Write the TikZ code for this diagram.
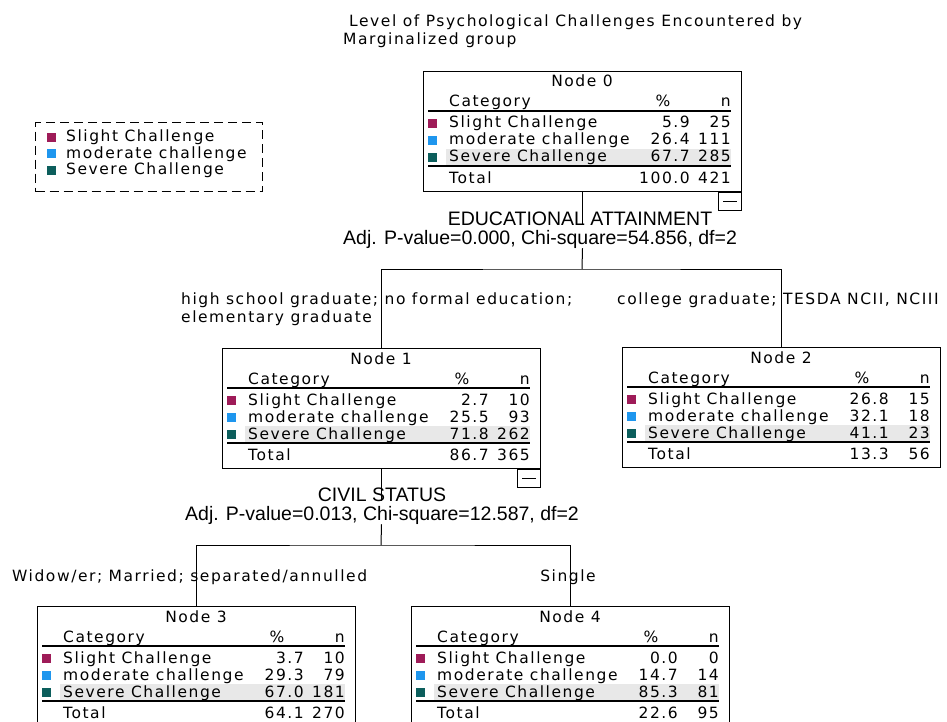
\documentclass[tikz,border=0pt]{standalone}
\usepackage{fontspec}
\setmainfont{DejaVu Sans}[LetterSpace=10]
\newfontfamily\splitfont{Liberation Sans}

\definecolor{slightcol}{RGB}{158,27,88}
\definecolor{moderatecol}{RGB}{30,150,238}
\definecolor{severecol}{RGB}{12,94,92}
\definecolor{rowshade}{RGB}{232,232,232}

\tikzset{
  txt/.style={inner sep=0pt, font=\fontsize{15.5}{18}\selectfont},
  splittxt/.style={inner sep=0pt, font=\splitfont\fontsize{19.5}{22}\selectfont},
  catbox/.style={draw, line width=1pt, minimum width=318pt, minimum height=120pt,
    inner sep=0pt, anchor=north west},
  minusbox/.style={draw, line width=1pt, minimum width=23pt, minimum height=18pt,
    inner sep=0pt, anchor=north east},
  swatch/.style={minimum size=9pt, inner sep=0pt, anchor=south west},
  edge/.style={line width=1pt},
}

% #1 name, #2 top left corner, #3 title, #4 pct/n rows
\newcommand{\cattable}[4]{%
  \begin{scope}[shift={(#2)}]
    \node[catbox] (#1) at (0,0) {};
    \fill[rowshade] (23,78) rectangle (308,94);
    \node[txt, anchor=base] at (159,16) {#3};
    \node[txt, anchor=base west] at (26,36) {Category};
    \node[txt, anchor=base] at (240,36) {\%};
    \node[txt, anchor=base east] at (308,36) {n};
    \draw[line width=1.2pt] (5,40) -- (308,40);
    \draw[line width=1.5pt] (5,95) -- (308,95);
    \foreach \lab/\col/\rowy in {Slight Challenge/slightcol/57,
        moderate challenge/moderatecol/74, Severe Challenge/severecol/91} {
      \node[swatch, fill=\col] at (5,\rowy) {};
      \node[txt, anchor=base west] at (26,\rowy) {\lab};
    }
    \node[txt, anchor=base west] at (26,112) {Total};
    \foreach \pct/\cnt [count=\i] in {#4} {
      \pgfmathsetmacro\rowy{{57,74,91,112}[\i-1]}
      \node[txt, anchor=base east] at (267,\rowy) {\pct};
      \node[txt, anchor=base east] at (308,\rowy) {\cnt};
    }
  \end{scope}}

\begin{document}
\begin{tikzpicture}[x=1pt, y=-1pt]
  \useasboundingbox (0,0) rectangle (947,722);
  \clip (0,0) rectangle (947,722);

  % title
  \node[txt, anchor=base west] (title) at (349,27) {Level of Psychological Challenges Encountered by};
  \node[txt, anchor=base west] (subtitle) at (343,45) {Marginalized group};

  % legend
  \node[draw, line width=1.2pt, dash pattern=on 9pt off 5pt, minimum width=227pt,
    minimum height=69pt, inner sep=0pt, anchor=north west] (legend) at (35,122) {};
  \foreach \lab/\col/\rowy in {Slight Challenge/slightcol/142,
      moderate challenge/moderatecol/158.5, Severe Challenge/severecol/175} {
    \node[swatch, fill=\col] at (47,\rowy) {};
    \node[txt, anchor=base west] at (66,\rowy) {\lab};
  }

  % tables
  \cattable{n0}{423,71}{Node 0}{5.9/25, 26.4/111, 67.7/285, 100.0/421}
  \cattable{n1}{222,348}{Node 1}{2.7/10, 25.5/93, 71.8/262, 86.7/365}
  \cattable{n2}{622,347}{Node 2}{26.8/15, 32.1/18, 41.1/23, 13.3/56}
  \cattable{n3}{37,606}{Node 3}{3.7/10, 29.3/79, 67.0/181, 64.1/270}
  \cattable{n4}{411,606}{Node 4}{0.0/0, 14.7/14, 85.3/81, 22.6/95}

  \node[minusbox] (m0) at (n0.south east) {};
  \node[minusbox] (m1) at (n1.south east) {};
  \draw[edge] ([xshift=5pt]m0.west) -- ([xshift=-5pt]m0.east);
  \draw[edge] ([xshift=5pt]m1.west) -- ([xshift=-5pt]m1.east);

  % splits
  \node[splittxt, anchor=base] (var0) at (580,225) {EDUCATIONAL ATTAINMENT};
  \node[splittxt, anchor=base west] (stat0) at (343,244) {Adj. P-value=0.000, Chi-square=54.856, df=2};
  \node[splittxt, anchor=base] (var1) at (382,501) {CIVIL STATUS};
  \node[splittxt, anchor=base] (stat1) at (382,520) {Adj. P-value=0.013, Chi-square=12.587, df=2};

  \coordinate (j0) at (582,269);
  \coordinate (j1) at (381,545);

  \begin{scope}[every path/.style={edge}]
  \draw (n0.south) -- (n0.south |- var0.base);
  \draw (n0.south |- stat0.south) -- (j0);
  \draw (n1.north) |- (j0) -| (n2.north);
  \draw (n1.south) -- (n1.south |- var1.base);
  \draw (n1.south |- stat1.south) -- (j1);
  \draw (n3.north) |- (j1) -| (n4.north);
  \end{scope}

  % branch labels
  \node[txt, anchor=north west, align=left] (b1) at (181,292.5)
    {high school graduate; no formal education;\\elementary graduate};
  \node[txt, anchor=base west] (b2) at (617,304) {college graduate; TESDA NCII, NCIII};
  \node[txt, anchor=base west] (b3) at (12,581) {Widow/er; Married; separated/annulled};
  \node[txt, anchor=base] (b4) at (568,581) {Single};
\end{tikzpicture}
\end{document}
